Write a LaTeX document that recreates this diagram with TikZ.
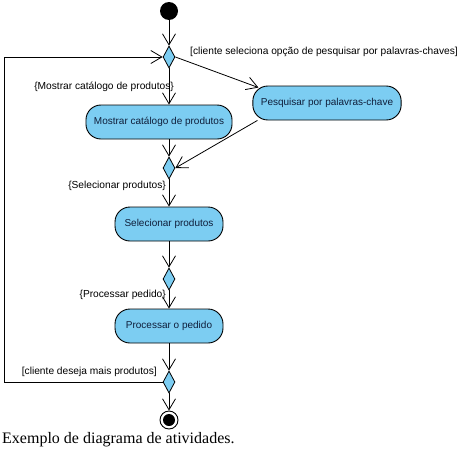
\documentclass[tikz,border=0pt]{standalone}
\usepackage{fontspec}
\setmainfont{Liberation Serif}
\setsansfont{Liberation Sans}
\usetikzlibrary{shapes.geometric, arrows.meta, positioning}
\definecolor{actfill}{HTML}{7CCDF2}
\definecolor{acttext}{HTML}{0F1E3A}
\begin{document}
\begin{tikzpicture}[
  x=1pt, y=-1pt,
  box/.style={rectangle, draw, line width=0.9pt, rounded corners=15pt, fill=actfill, text=acttext, align=center, font=\sffamily\fontsize{10}{12}\selectfont, minimum height=34pt, inner xsep=8pt},
  decision/.style={diamond, draw, line width=0.8pt, fill=actfill, minimum width=12pt, minimum height=22pt, inner sep=0pt},
  guard/.style={inner sep=0pt, font=\sffamily\fontsize{10.2}{12}\selectfont},
  arrow/.style={-{Straight Barb[length=11pt,width=13pt]}, line width=0.8pt}
]
\useasboundingbox (0,0) rectangle (460,450);

\node[circle, fill=black, minimum size=18pt, inner sep=0pt] (start) at (169,11) {};
\node[decision] (d1) at (169,57) {};
\node[box, minimum width=145pt] (mostrar) at (159,122) {Mostrar catálogo de produtos};
\node[box, minimum width=146pt] (pesq) at (327,103) {Pesquisar por palavras-chave};
\node[decision] (d2) at (169,168) {};
\node[box, minimum width=108pt] (selec) at (169,224) {Selecionar produtos};
\node[decision] (d3) at (169,279) {};
\node[box, minimum width=108pt] (proc) at (169,326) {Processar o pedido};
\node[decision] (d4) at (169,382) {};
\node[circle, draw, line width=0.9pt, minimum size=18pt, inner sep=0pt] (final) at (169,420) {};
\fill (final) circle (6pt);

% guards
\node[guard, anchor=west] (g1) at (190,52) {[cliente seleciona opção de pesquisar por palavras-chaves]};
\node[guard, anchor=east] (g2) at (174,87) {\{Mostrar catálogo de produtos\}};
\node[guard, anchor=east] (g3) at (166,186) {\{Selecionar produtos\}};
\node[guard, anchor=east] (g4) at (166,295) {\{Processar pedido\}};
\node[guard, anchor=east] (g5) at (157,372) {[cliente deseja mais produtos]};

\node[anchor=west, inner sep=0pt, font=\fontsize{16}{18}\selectfont] (caption) at (2,440) {Exemplo de diagrama de atividades.};

\coordinate (loop) at (4,382);

\draw[arrow] (start) -- (d1);
\draw[arrow] (d1) -- (d1 |- mostrar.north);
\draw[arrow] (d1.east) -- ([xshift=6pt,yshift=-2pt]pesq.north west);
\draw[arrow] (d1 |- mostrar.south) -- (d2);
\draw[arrow] ([xshift=5pt]pesq.south west) -- (d2.east);
\draw[arrow] (d2) -- (selec);
\draw[arrow] (selec) -- (d3);
\draw[arrow] (d3) -- (proc);
\draw[arrow] (proc) -- (d4);
\draw[arrow] (d4) -- (final);
\draw[arrow] (d4.west) -- (loop) |- (d1.west);

\end{tikzpicture}
\end{document}
